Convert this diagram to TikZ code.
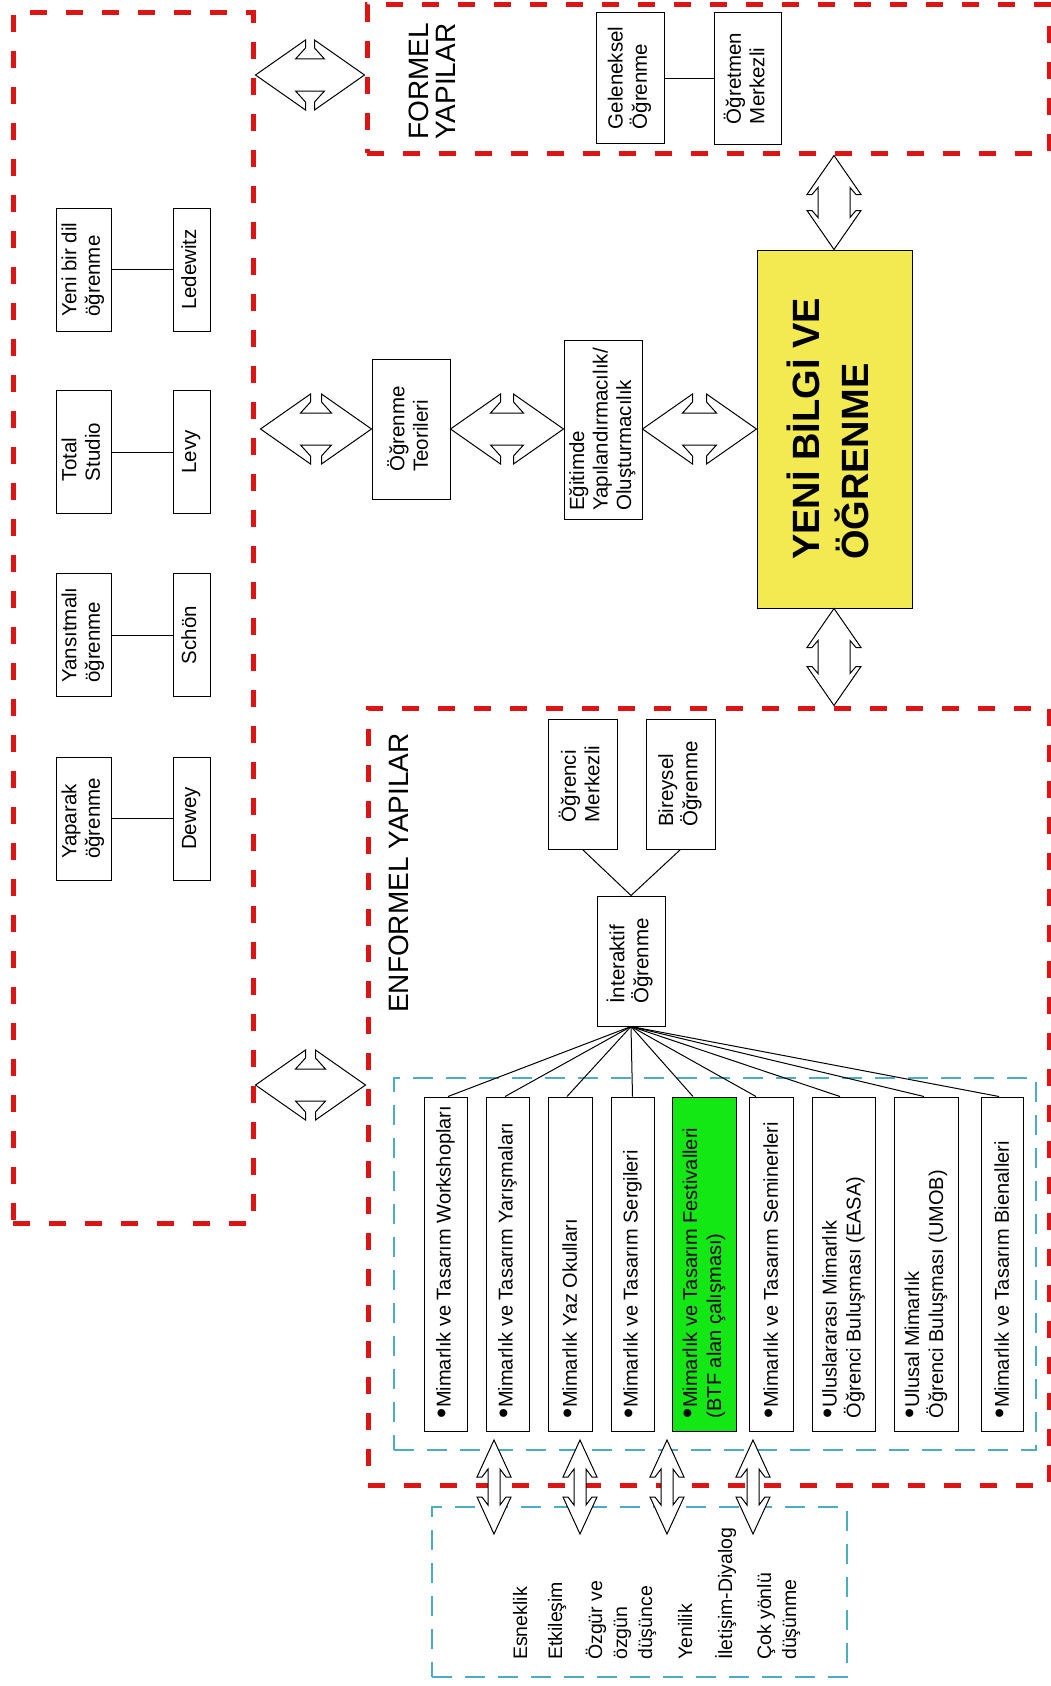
\documentclass[tikz,border=0pt]{standalone}
\usepackage{fontspec}
\setmainfont{Liberation Sans}
\usepackage{graphicx}
\usetikzlibrary{calc}
\definecolor{dred}{RGB}{220,20,20}
\definecolor{dcyan}{RGB}{75,172,198}
\definecolor{dyellow}{RGB}{242,234,80}
\definecolor{dgreen}{RGB}{20,232,20}

\newcommand{\rtab}[1]{\rotatebox{90}{\begin{tabular}{@{}l@{}}#1\end{tabular}}}
\newcommand{\bul}{\raisebox{-0.6pt}{\scalebox{1.45}{•}}}
\newcommand{\ritem}[1]{\rotatebox{90}{\parbox{330pt}{\raggedright\leftskip=11pt\relax\leavevmode\hangindent=9pt\hangafter=1\relax\bul #1}}}
\newcommand{\myhfont}{\fontsize{28}{30}\selectfont}
\newcommand{\myyfont}{\fontsize{38}{49}\selectfont\bfseries}
\newcommand{\mybfont}{\fontsize{19.5}{23}\selectfont}

% horizontal fat double arrow: left, right, y, head, barb, notch, shaft, back
\newcommand{\fath}[8]{\draw[fatarrow] let \p1=#1, \p2=#2, \p3=(0,#3) in
 (\x1,\y3) -- (\x1+#4,\y3+#5) -- (\x1+#4,\y3+#6) -- (\x1+#4-#8,\y3+#7) -- (\x2-#4+#8,\y3+#7) -- (\x2-#4,\y3+#6) -- (\x2-#4,\y3+#5) -- (\x2,\y3) -- (\x2-#4,\y3-#5) -- (\x2-#4,\y3-#6) -- (\x2-#4+#8,\y3-#7) -- (\x1+#4-#8,\y3-#7) -- (\x1+#4,\y3-#6) -- (\x1+#4,\y3-#5) -- cycle;}
% vertical fat double arrow: top, bottom, x, head, barb, notch, shaft, back
\newcommand{\fatv}[8]{\draw[fatarrow] let \p1=#1, \p2=#2, \p3=(#3,0) in
 (\x3,\y1) -- (\x3+#5,\y1-#4) -- (\x3+#6,\y1-#4) -- (\x3+#7,\y1-#4+#8) -- (\x3+#7,\y2+#4-#8) -- (\x3+#6,\y2+#4) -- (\x3+#5,\y2+#4) -- (\x3,\y2) -- (\x3-#5,\y2+#4) -- (\x3-#6,\y2+#4) -- (\x3-#7,\y2+#4-#8) -- (\x3-#7,\y1-#4+#8) -- (\x3-#6,\y1-#4) -- (\x3-#5,\y1-#4) -- cycle;}

\tikzset{
 box/.style={draw, line width=1pt, fill=white, inner sep=0pt, font=\fontsize{20.5}{23.5}\selectfont},
 listbox/.style={box, minimum height=334, font=\fontsize{20}{24}\selectfont},
 redbox/.style={draw=dred, line width=5pt, dash pattern=on 17pt off 19pt, inner sep=0pt},
 cyanbox/.style={draw=dcyan, line width=1.5pt, dash pattern=on 20pt off 13pt, inner sep=0pt},
 fatarrow/.style={draw=black, fill=white, line width=1pt, line join=miter},
 conn/.style={draw=black, line width=1pt},
 lbl/.style={rotate=90, anchor=base west, inner sep=0pt},
}

\begin{document}
\begin{tikzpicture}[x=1pt, y=-1pt]
\useasboundingbox[fill=white] (0,0) rectangle (1051,1686);

% containers
\node[redbox, minimum width=240, minimum height=1210] (LB) at (133,618) {};
\node[redbox, minimum width=682, minimum height=148] (FB) at (708,79) {};
\node[redbox, minimum width=681, minimum height=777] (EB) at (708.5,1096.5) {};
\node[cyanbox, minimum width=642, minimum height=372] (IC) at (715,1264) {};
\node[cyanbox, minimum width=415, minimum height=170] (BC) at (639.5,1592) {};

% headers
\node[lbl, font=\myhfont] (FH1) at (428,140) {FORMEL};
\node[lbl, font=\myhfont] (FH2) at (455,140) {YAPILAR};
\node[lbl, font=\myhfont] (EH) at (408,1013) {ENFORMEL YAPILAR};

% left column
\node[box, minimum width=55, minimum height=123] (L1) at (83.5,269.5) {\rtab{Yeni bir dil\\öğrenme}};
\node[box, minimum width=37, minimum height=123] (R1) at (191.5,269.5) {\rtab{Ledewitz}};
\node[box, minimum width=55, minimum height=123] (L2) at (83.5,452) {\rtab{Total\\Studio}};
\node[box, minimum width=37, minimum height=123] (R2) at (191.5,452) {\rtab{Levy}};
\node[box, minimum width=55, minimum height=123] (L3) at (83.5,635) {\rtab{Yansıtmalı\\öğrenme}};
\node[box, minimum width=37, minimum height=123] (R3) at (191.5,635) {\rtab{Schön}};
\node[box, minimum width=55, minimum height=123] (L4) at (83.5,818.5) {\rtab{Yaparak\\öğrenme}};
\node[box, minimum width=37, minimum height=123] (R4) at (191.5,818.5) {\rtab{Dewey}};
\draw[conn] (L1) -- (R1);
\draw[conn] (L2) -- (R2);
\draw[conn] (L3) -- (R3);
\draw[conn] (L4) -- (R4);

% middle row
\node[box, minimum width=78, minimum height=140] (T) at (411,429) {\rtab{Öğrenme\\Teorileri}};
\node[box, minimum width=78, minimum height=179] (E) at (603,429.5) {\rtab{Eğitimde\\Yapılandırmacılık/\\Oluşturmacılık}};
\node[box, fill=dyellow, minimum width=155, minimum height=358, font=\myyfont] (Y) at (834.5,429) {\rtab{YENİ BİLGİ VE\\ÖĞRENME}};

% formel
\node[box, minimum width=68, minimum height=130] (G) at (630,78) {\rtab{Geleneksel\\Öğrenme}};
\node[box, minimum width=67, minimum height=131] (O) at (747.5,78.5) {\rtab{Öğretmen\\Merkezli}};
\draw[conn] (G.east) -- (G.east -| O.west);

% enformel
\node[box, minimum width=69, minimum height=130] (OM) at (582.5,784) {\rtab{Öğrenci\\Merkezli}};
\node[box, minimum width=69, minimum height=130] (BO) at (680.5,784) {\rtab{Bireysel\\Öğrenme}};
\node[box, minimum width=68, minimum height=130] (IN) at (631,961) {\rtab{İnteraktif\\Öğrenme}};
\draw[conn] (IN.north) -- (OM.south);
\draw[conn] (IN.north) -- (BO.south);

% list
\node[listbox, minimum width=43] (M1) at (445.5,1264) {\ritem{Mimarlık ve Tasarım Workshopları}};
\node[listbox, minimum width=43] (M2) at (507.5,1264) {\ritem{Mimarlık ve Tasarım Yarışmaları}};
\node[listbox, minimum width=44] (M3) at (570,1264) {\ritem{Mimarlık Yaz Okulları}};
\node[listbox, minimum width=43] (M4) at (632.5,1264) {\ritem{Mimarlık ve Tasarım Sergileri}};
\node[listbox, fill=dgreen, minimum width=64] (M5) at (704,1264) {\ritem{Mimarlık ve Tasarım Festivalleri\\(BTF alan çalışması)}};
\node[listbox, minimum width=44] (M6) at (771,1264) {\ritem{Mimarlık ve Tasarım Seminerleri}};
\node[listbox, minimum width=63] (M7) at (843.5,1264) {\ritem{Uluslararası Mimarlık\\Öğrenci Buluşması (EASA)}};
\node[listbox, minimum width=64] (M8) at (926,1264) {\ritem{Ulusal Mimarlık\\Öğrenci Buluşması (UMOB)}};
\node[listbox, minimum width=42] (M9) at (1002,1264) {\ritem{Mimarlık ve Tasarım Bienalleri}};
\draw[conn] (IN.south) -- ($(M1.north)+(2.5,0)$);
\draw[conn] (IN.south) -- ($(M2.north)+(-2.5,0)$);
\draw[conn] (IN.south) -- ($(M3.north)+(-3,0)$);
\draw[conn] (IN.south) -- (M4.north);
\draw[conn] (IN.south) -- ($(M5.north)+(-11,0)$);
\draw[conn] (IN.south) -- ($(M6.north)+(-15,0)$);
\draw[conn] (IN.south) -- ($(M7.north)+(-3.5,0)$);
\draw[conn] (IN.south) -- ($(M8.north)+(-2,0)$);
\draw[conn] (IN.south) -- ($(M9.north)+(-3,0)$);

% bottom texts
\node[lbl, font=\mybfont] (B1) at (527,1660) {Esneklik};
\node[lbl, font=\mybfont] (B2) at (562,1660) {Etkileşim};
\node[lbl, font=\mybfont] (B3a) at (602,1660) {Özgür ve};
\node[lbl, font=\mybfont] (B3b) at (627,1660) {özgün};
\node[lbl, font=\mybfont] (B3c) at (652,1660) {düşünce};
\node[lbl, font=\mybfont] (B4) at (692,1660) {Yenilik};
\node[lbl, font=\mybfont] (B5) at (732,1660) {İletişim-Diyalog};
\node[lbl, font=\mybfont] (B6a) at (771,1660) {Çok yönlü};
\node[lbl, font=\mybfont] (B6b) at (796,1660) {düşünme};

% fat arrows
\fath{(LB.east)}{(FB.west)}{75}{50pt}{35pt}{27pt}{16pt}{10pt}
\fath{($(LB.east)+(5,0)$)}{(T.west)}{429}{50pt}{35pt}{27pt}{16pt}{10pt}
\fath{(T.east)}{(E.west)}{429}{50pt}{35pt}{27pt}{16pt}{10pt}
\fath{(E.east)}{(Y.west)}{429}{50pt}{35pt}{27pt}{16pt}{10pt}
\fath{(LB.east)}{(EB.west)}{1085}{50pt}{35pt}{27pt}{16pt}{10pt}
\fatv{(FB.south)}{(Y.north)}{834}{39pt}{27pt}{22pt}{16pt}{7pt}
\fatv{(Y.south)}{(EB.north)}{834}{39pt}{27pt}{22pt}{16pt}{7pt}

\coordinate (s1a) at (494,1440); \coordinate (s1b) at (494,1534);
\coordinate (s2a) at (580,1440); \coordinate (s2b) at (580,1534);
\coordinate (s3a) at (667,1440); \coordinate (s3b) at (667,1534);
\coordinate (s4a) at (753,1440); \coordinate (s4b) at (753,1534);
\fatv{(s1a)}{(s1b)}{494}{37pt}{17pt}{12pt}{6pt}{8pt}
\fatv{(s2a)}{(s2b)}{580}{37pt}{17pt}{12pt}{6pt}{8pt}
\fatv{(s3a)}{(s3b)}{667}{37pt}{17pt}{12pt}{6pt}{8pt}
\fatv{(s4a)}{(s4b)}{753}{37pt}{17pt}{12pt}{6pt}{8pt}
\end{tikzpicture}
\end{document}
